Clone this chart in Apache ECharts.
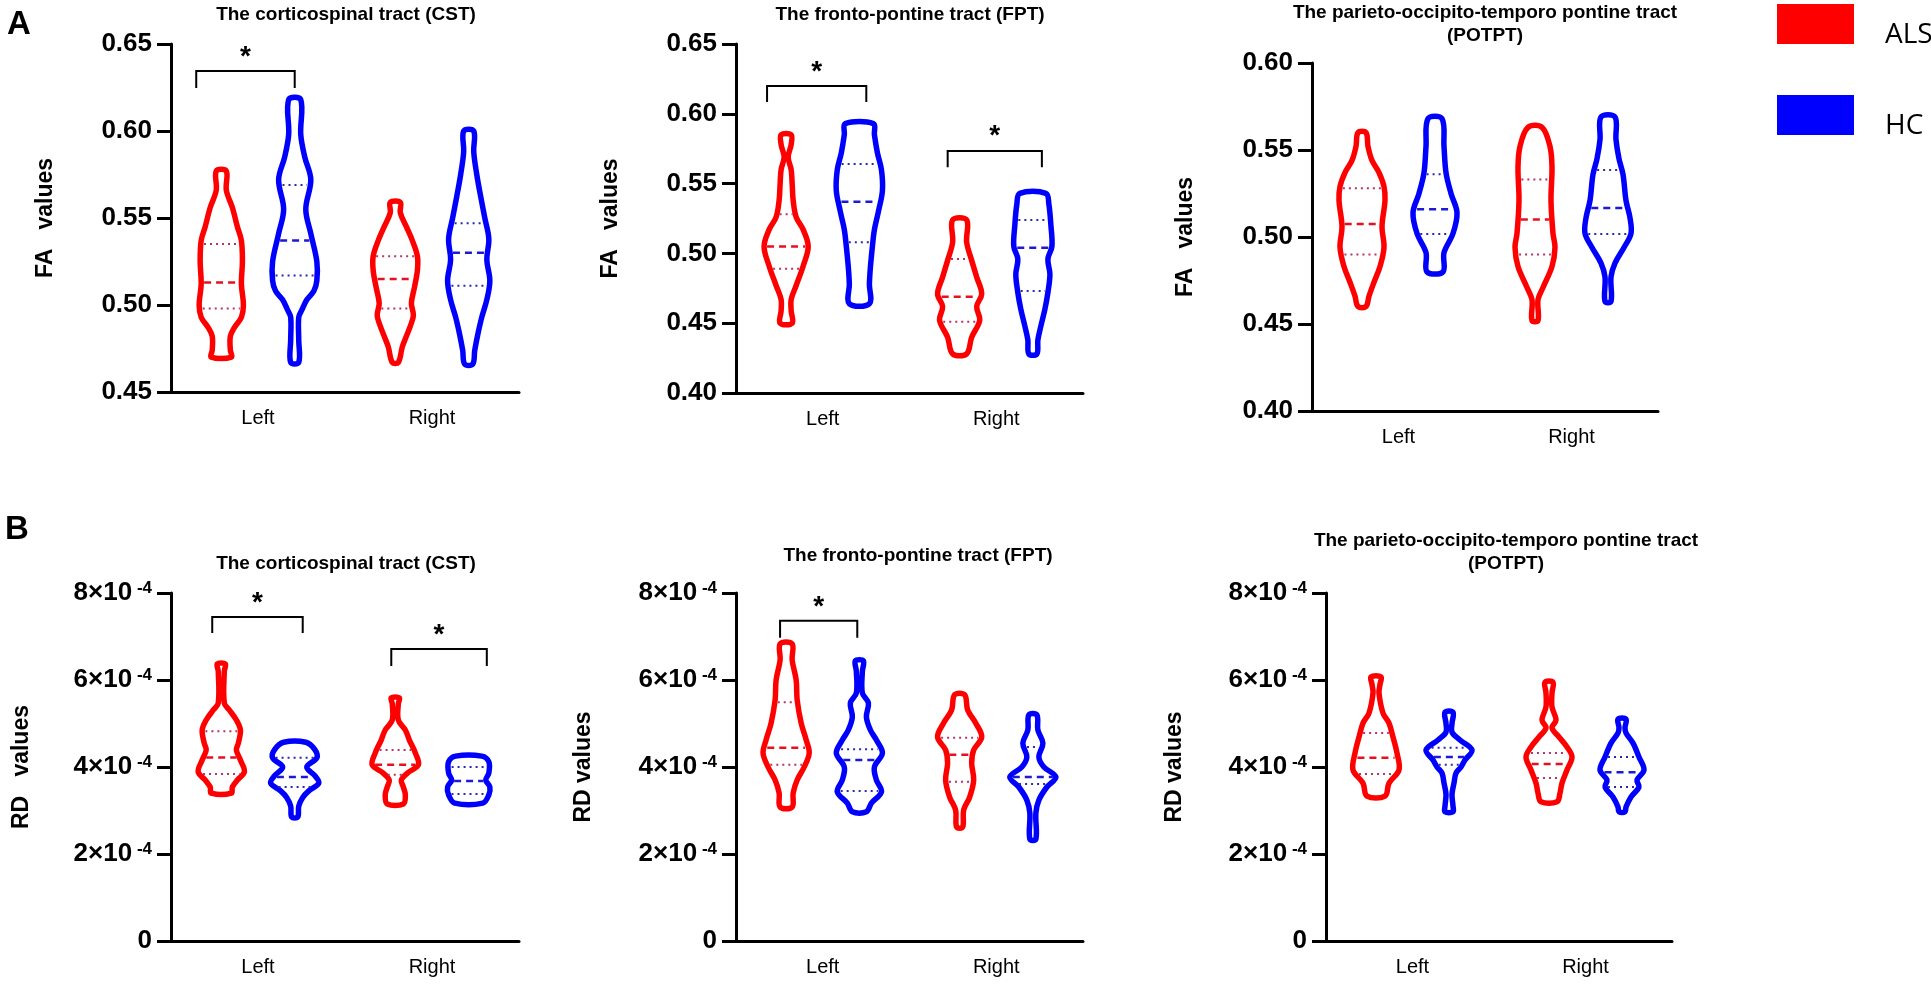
<!DOCTYPE html>
<html>
<head>
<meta charset="utf-8">
<title>FA and RD violin plots, ALS vs HC</title>
<script src="https://cdn.jsdelivr.net/npm/echarts@6.0.0/dist/echarts.min.js"></script>
<style>
  html, body { margin: 0; padding: 0; background: #fff; }
  #chart { width: 1931px; height: 987px; }
</style>
</head>
<body>
<div id="chart"></div>
<script>
const categories = ['Left', 'Right']
const groups = ['ALS', 'HC']

// violin outlines, top to bottom: [value, half width (px at a 173px band)]
// each array holds the Left and the Right violin
// FA values
const faCstAls = [
  [[0.577, 5], [0.566, 5], [0.556, 11], [0.545, 16], [0.537, 20], [0.525, 21], [0.512, 20], [0.500, 22], [0.493, 20], [0.487, 13], [0.482, 9], [0.474, 9], [0.470, 10]],
  [[0.559, 5], [0.553, 5], [0.545, 11], [0.537, 17], [0.528, 22], [0.520, 22], [0.510, 19], [0.501, 16], [0.494, 18], [0.488, 15], [0.482, 11], [0.476, 7], [0.467, 3]]
]
const faCstHc = [
  [[0.618, 6], [0.598, 6], [0.585, 10], [0.572, 16], [0.555, 11], [0.541, 16], [0.525, 22], [0.514, 22], [0.508, 19], [0.503, 12], [0.497, 7], [0.493, 4], [0.480, 4], [0.467, 4]],
  [[0.600, 5], [0.588, 5], [0.575, 8], [0.562, 12], [0.550, 16], [0.538, 20], [0.526, 18], [0.514, 21], [0.503, 18], [0.493, 13], [0.483, 9], [0.474, 6], [0.466, 4]]
]
const faFptAls = [
  [[0.585, 5], [0.578, 5], [0.569, 2], [0.560, 5], [0.550, 6], [0.538, 7], [0.526, 10], [0.517, 17], [0.505, 22], [0.491, 17], [0.477, 10], [0.467, 5], [0.459, 5], [0.450, 6]],
  [[0.524, 7], [0.508, 7], [0.495, 12], [0.483, 17], [0.471, 22], [0.462, 17], [0.452, 20], [0.440, 12], [0.428, 7]]
]
const faFptHc = [
  [[0.593, 14], [0.585, 15], [0.572, 18], [0.560, 22], [0.545, 23], [0.530, 19], [0.517, 15], [0.505, 13], [0.490, 11], [0.478, 10], [0.464, 10]],
  [[0.543, 13], [0.535, 16], [0.520, 18], [0.505, 19], [0.496, 15], [0.485, 17], [0.472, 15], [0.460, 12], [0.448, 8], [0.438, 5], [0.428, 4]]
]
const faPotptAls = [
  [[0.560, 4], [0.552, 6], [0.544, 10], [0.537, 17], [0.529, 22], [0.521, 23], [0.506, 20], [0.494, 22], [0.483, 18], [0.474, 12], [0.466, 7], [0.460, 4]],
  [[0.563, 7], [0.552, 15], [0.540, 17], [0.521, 16], [0.502, 18], [0.494, 20], [0.483, 17], [0.471, 8], [0.464, 3], [0.452, 3]]
]
const faPotptHc = [
  [[0.568, 7], [0.552, 9], [0.537, 11], [0.525, 16], [0.514, 22], [0.502, 18], [0.491, 9], [0.480, 8]],
  [[0.569, 7], [0.556, 8], [0.545, 11], [0.536, 15], [0.521, 18], [0.511, 22], [0.502, 23], [0.494, 16], [0.485, 7], [0.477, 3], [0.463, 3]]
]

// RD values, in units of 10^-4
const rdCstAls = [
  [[6.37, 4], [6.20, 3], [5.47, 3], [5.31, 8], [5.08, 15], [4.85, 19], [4.55, 17], [4.39, 15], [4.16, 19], [3.89, 23], [3.70, 16], [3.54, 11], [3.40, 10]],
  [[5.59, 4], [5.45, 3], [5.08, 3], [4.85, 10], [4.62, 14], [4.32, 20], [4.05, 23], [3.86, 12], [3.70, 6], [3.54, 8], [3.36, 10], [3.15, 8]]
]
const rdCstHc = [
  [[4.57, 11], [4.40, 20], [4.21, 22], [4.00, 12], [3.80, 20], [3.63, 24], [3.45, 14], [3.30, 8], [3.10, 4], [2.85, 3]],
  [[4.25, 13], [4.12, 20], [3.86, 20], [3.70, 17], [3.54, 21], [3.36, 20], [3.17, 14]]
]
const rdFptAls = [
  [[6.83, 6], [6.46, 6], [6.00, 10], [5.54, 11], [5.01, 15], [4.62, 20], [4.32, 23], [4.00, 18], [3.70, 11], [3.40, 7], [3.08, 6]],
  [[5.66, 5], [5.31, 8], [5.01, 16], [4.69, 22], [4.39, 14], [4.09, 12], [3.70, 14], [3.31, 10], [3.01, 4], [2.62, 3]]
]
const rdFptHc = [
  [[6.44, 4], [6.20, 3], [5.70, 3], [5.47, 9], [5.15, 7], [4.85, 11], [4.62, 17], [4.32, 23], [4.00, 15], [3.70, 17], [3.43, 22], [3.17, 12], [2.97, 7]],
  [[5.20, 4], [4.85, 5], [4.55, 10], [4.23, 6], [4.00, 11], [3.77, 23], [3.54, 14], [3.24, 6], [2.94, 3], [2.34, 3]]
]
const rdPotptAls = [
  [[6.07, 5], [5.90, 4], [5.70, 3], [5.24, 7], [5.01, 13], [4.69, 17], [4.32, 21], [3.93, 23], [3.63, 13], [3.33, 9]],
  [[5.95, 4], [5.70, 3], [5.38, 3], [5.08, 7], [4.90, 3], [4.69, 10], [4.46, 18], [4.23, 23], [3.93, 18], [3.63, 13], [3.40, 11], [3.20, 8]]
]
const rdPotptHc = [
  [[5.26, 4], [5.00, 3], [4.80, 3], [4.62, 11], [4.39, 23], [4.16, 16], [4.00, 12], [3.86, 7], [3.63, 5], [3.37, 3], [3.10, 4], [2.97, 4]],
  [[5.10, 4], [4.90, 3], [4.78, 4], [4.55, 11], [4.23, 17], [3.93, 22], [3.70, 15], [3.54, 17], [3.31, 9], [3.08, 4], [2.97, 3]]
]

// quartiles [Q1, median, Q3] for Left and Right
const faCstAlsQ = [[0.498, 0.513, 0.535], [0.498, 0.515, 0.528]]
const faCstHcQ = [[0.517, 0.537, 0.569], [0.511, 0.530, 0.547]]
const faFptAlsQ = [[0.489, 0.505, 0.528], [0.451, 0.469, 0.496]]
const faFptHcQ = [[0.508, 0.537, 0.564], [0.473, 0.504, 0.524]]
const faPotptAlsQ = [[0.490, 0.5075, 0.528], [0.490, 0.510, 0.533]]
const faPotptHcQ = [[0.5017, 0.516, 0.536], [0.5017, 0.5167, 0.5385]]
const rdCstAlsQ = [[3.84, 4.22, 4.82], [3.82, 4.05, 4.39]]
const rdCstHcQ = [[3.54, 3.77, 4.21], [3.38, 3.68, 4.00]]
const rdFptAlsQ = [[4.05, 4.44, 5.49], [3.66, 4.28, 4.67]]
const rdFptHcQ = [[3.45, 4.16, 4.41], [3.61, 3.77, 4.46]]
const rdPotptAlsQ = [[3.84, 4.21, 4.78], [3.75, 4.07, 4.32]]
const rdPotptHcQ = [[4.05, 4.23, 4.44], [3.54, 3.88, 4.23]]

// significance brackets: [category, from, to (band fractions), top, leg end, star]
const faCstSig = [[0, -0.355, 0.211, 0.6345, 0.6247, 0.6454]]
const faFptSig = [[0, -0.321, 0.251, 0.620, 0.6084, 0.6335], [1, -0.280, 0.263, 0.5733, 0.5618, 0.5875]]
const rdCstSig = [[0, -0.263, 0.257, 7.45, 7.08, 7.89], [1, -0.234, 0.315, 6.71, 6.32, 7.15]]
const rdFptSig = [[0, -0.246, 0.199, 7.36, 6.97, 7.79]]

const FONT = "'Liberation Sans', Arial, sans-serif"
const RED = '#ff0000'
const BLUE = '#0000ff'
const OFFSET = 0.211
const REF_BAND = 173

const panels = [
  { title: 'The corticospinal tract (CST)', tx: 346, ty: 3, grid: [171, 44, 348, 348], min: 0.45, max: 0.65, interval: 0.05, name: 'FA   values', gap: 114, kind: 'fa', als: faCstAls, hc: faCstHc, alsQ: faCstAlsQ, hcQ: faCstHcQ, sig: faCstSig },
  { title: 'The fronto-pontine tract (FPT)', tx: 910, ty: 3, grid: [736, 44, 347, 349], min: 0.40, max: 0.65, interval: 0.05, name: 'FA   values', gap: 114, kind: 'fa', als: faFptAls, hc: faFptHc, alsQ: faFptAlsQ, hcQ: faFptHcQ, sig: faFptSig },
  { title: 'The parieto-occipito-temporo pontine tract\n(POTPT)', tx: 1485, ty: 1, grid: [1312, 63, 346, 348], min: 0.40, max: 0.60, interval: 0.05, name: 'FA   values', gap: 115, kind: 'fa', als: faPotptAls, hc: faPotptHc, alsQ: faPotptAlsQ, hcQ: faPotptHcQ, sig: [] },
  { title: 'The corticospinal tract (CST)', tx: 346, ty: 552, grid: [171, 593, 348, 348], min: 0, max: 8, interval: 2, name: 'RD   values', gap: 138, kind: 'rd', als: rdCstAls, hc: rdCstHc, alsQ: rdCstAlsQ, hcQ: rdCstHcQ, sig: rdCstSig },
  { title: 'The fronto-pontine tract (FPT)', tx: 918, ty: 544, grid: [736, 593, 347, 348], min: 0, max: 8, interval: 2, name: 'RD values', gap: 141, kind: 'rd', als: rdFptAls, hc: rdFptHc, alsQ: rdFptAlsQ, hcQ: rdFptHcQ, sig: rdFptSig },
  { title: 'The parieto-occipito-temporo pontine tract\n(POTPT)', tx: 1506, ty: 529, grid: [1326, 593, 346, 348], min: 0, max: 8, interval: 2, name: 'RD values', gap: 140, kind: 'rd', als: rdPotptAls, hc: rdPotptHc, alsQ: rdPotptAlsQ, hcQ: rdPotptHcQ, sig: [] }
]

function halfWidthAt(profile, v) {
  for (let i = 0; i < profile.length - 1; i++) {
    const a = profile[i], b = profile[i + 1]
    if (v <= a[0] && v >= b[0]) {
      const t = (a[0] - v) / (a[0] - b[0])
      return a[1] + (b[1] - a[1]) * t
    }
  }
  return 0
}

function violinRenderer(profiles, quartiles, side, color, dashColor, dotColor) {
  return function (params, api) {
    const i = params.dataIndex
    const prof = profiles[i]
    const band = api.size([1, 0])[0]
    const k = band / REF_BAND
    const cx = api.coord([i, prof[0][0]])[0] + side * OFFSET * band
    const yOf = v => api.coord([i, v])[1]
    const rightSide = prof.map(p => [cx + p[1] * k, yOf(p[0])])
    const leftSide = prof.slice().reverse().map(p => [cx - p[1] * k, yOf(p[0])])
    const children = [{
      type: 'polygon',
      shape: { points: rightSide.concat(leftSide), smooth: 0.35 },
      style: { fill: 'none', stroke: color, lineWidth: 5.5, lineJoin: 'round' }
    }]
    quartiles[i].forEach((q, j) => {
      const hw = Math.max(halfWidthAt(prof, q) * k - 3, 2)
      const y = yOf(q)
      children.push({
        type: 'line',
        shape: { x1: cx - hw, y1: y, x2: cx + hw, y2: y },
        style: j === 1
          ? { stroke: dashColor, lineWidth: 2.5, lineDash: [7, 5] }
          : { stroke: dotColor, lineWidth: 2, lineDash: [2, 4] }
      })
    })
    return { type: 'group', children }
  }
}

function bracketRenderer(list) {
  return function (params, api) {
    const b = list[params.dataIndex]
    const band = api.size([1, 0])[0]
    const c = api.coord([b[0], b[3]])
    const x0 = c[0] + b[1] * band
    const x1 = c[0] + b[2] * band
    const yLeg = api.coord([b[0], b[4]])[1]
    const yStar = api.coord([b[0], b[5]])[1]
    return {
      type: 'group',
      children: [
        { type: 'polyline', shape: { points: [[x0, yLeg], [x0, c[1]], [x1, c[1]], [x1, yLeg]] }, style: { stroke: '#000', lineWidth: 2, fill: 'none' } },
        { type: 'text', x: (x0 + x1) / 2, y: yStar + 5, style: { text: '*', fill: '#000', font: 'bold 28px ' + FONT, align: 'center', verticalAlign: 'middle' } }
      ]
    }
  }
}

const titles = [
  { text: 'A', left: 7, top: 8, padding: 0, textStyle: { fontSize: 33, fontWeight: 'bold', color: '#000', fontFamily: FONT } },
  { text: 'B', left: 5, top: 513, padding: 0, textStyle: { fontSize: 33, fontWeight: 'bold', color: '#000', fontFamily: FONT } }
]
const grids = []
const xAxes = []
const yAxes = []
const series = []

panels.forEach((p, i) => {
  titles.push({
    text: p.title, left: p.tx, top: p.ty, textAlign: 'center', padding: 0,
    textStyle: { fontSize: 19, fontWeight: 'bold', color: '#000', fontFamily: FONT, lineHeight: 23 }
  })
  grids.push({ left: p.grid[0], top: p.grid[1], width: p.grid[2], height: p.grid[3] })
  xAxes.push({
    gridIndex: i, type: 'category', data: categories,
    axisLine: { lineStyle: { color: '#000', width: 3 } },
    axisTick: { alignWithLabel: true, length: 10, lineStyle: { color: '#000', width: 3 } },
    axisLabel: { fontSize: 20, color: '#000', margin: 16, fontFamily: FONT }
  })
  yAxes.push({
    gridIndex: i, type: 'value', min: p.min, max: p.max, interval: p.interval,
    name: p.name, nameLocation: 'middle', nameRotate: 90, nameGap: p.gap,
    nameTextStyle: { fontSize: 23, fontWeight: 'bold', color: '#000', fontFamily: FONT },
    axisLine: { show: true, lineStyle: { color: '#000', width: 3 } },
    axisTick: { show: true, length: 14, lineStyle: { color: '#000', width: 3 } },
    splitLine: { show: false },
    axisLabel: p.kind === 'fa'
      ? { fontSize: 26, fontWeight: 'bold', color: '#000', fontFamily: FONT, margin: 19, formatter: v => v.toFixed(2) }
      : {
          margin: 19,
          formatter: v => v === 0 ? '{m|0}' : '{m|' + Math.round(v) + '×10}{s| -4}',
          rich: {
            m: { fontSize: 26, fontWeight: 'bold', color: '#000', fontFamily: FONT, lineHeight: 26 },
            s: { fontSize: 17, fontWeight: 'bold', color: '#000', fontFamily: FONT, lineHeight: 17, verticalAlign: 'top' }
          }
        }
  })
  const catData = categories.map((c, j) => [j, p.min])
  series.push({
    name: groups[0], type: 'custom', xAxisIndex: i, yAxisIndex: i, clip: false,
    itemStyle: { color: RED },
    renderItem: violinRenderer(p.als, p.alsQ, -1, RED, '#e81020', '#b8336a'),
    data: catData
  })
  series.push({
    name: groups[1], type: 'custom', xAxisIndex: i, yAxisIndex: i, clip: false,
    itemStyle: { color: BLUE },
    renderItem: violinRenderer(p.hc, p.hcQ, 1, BLUE, '#1a1ad8', '#2a2ab0'),
    data: catData
  })
  if (p.sig.length) {
    series.push({
      type: 'custom', xAxisIndex: i, yAxisIndex: i, clip: false, silent: true,
      renderItem: bracketRenderer(p.sig),
      data: p.sig.map(b => [b[0], b[3]])
    })
  }
})

const chart = echarts.init(document.getElementById('chart'))
chart.setOption({
  animation: false,
  backgroundColor: '#fff',
  title: titles,
  legend: {
    data: groups, orient: 'vertical', left: 1772, top: -6,
    icon: 'rect', itemWidth: 77, itemHeight: 40, itemGap: 41, selectedMode: false,
    formatter: name => '{t|' + name + '}',
    textStyle: {
      rich: {
        t: { fontSize: 28, color: '#000', fontFamily: "'Open Sans', sans-serif", lineHeight: 20, padding: [22, 0, 0, 26] }
      }
    }
  },
  grid: grids,
  xAxis: xAxes,
  yAxis: yAxes,
  series: series
})
</script>
</body>
</html>
